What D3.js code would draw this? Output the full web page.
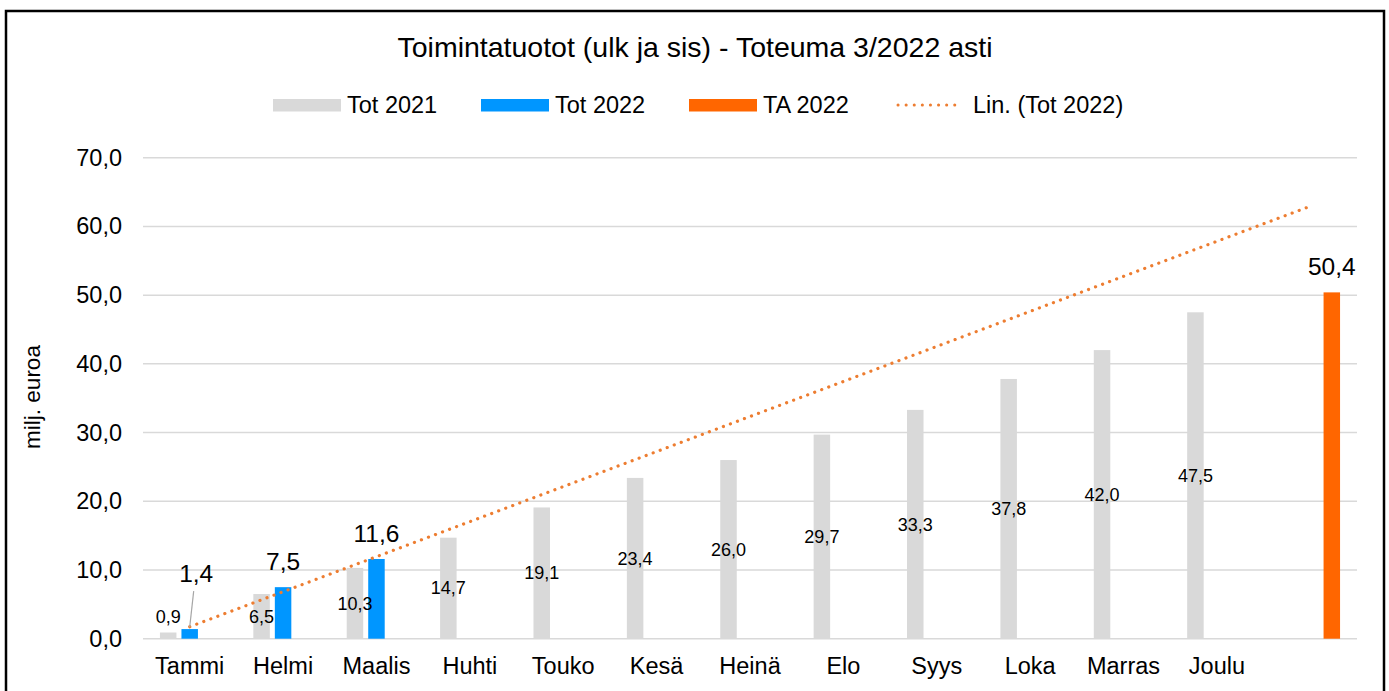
<!DOCTYPE html>
<html>
<head>
<meta charset="utf-8">
<script src="https://cdn.jsdelivr.net/npm/d3@7"></script>
<style>
  body { margin: 0; background: #fff; }
  text { font-family: "Liberation Sans", Arial, sans-serif; }
</style>
</head>
<body>
<div id="chart"></div>
<script>
// chart data
var months = ['Tammi', 'Helmi', 'Maalis', 'Huhti', 'Touko', 'Kesä', 'Heinä', 'Elo', 'Syys', 'Loka', 'Marras', 'Joulu', ''];
var tot2021 = [0.9, 6.5, 10.3, 14.7, 19.1, 23.4, 26.0, 29.7, 33.3, 37.8, 42.0, 47.5, null];
var tot2022 = [1.4, 7.5, 11.6, null, null, null, null, null, null, null, null, null, null];
var ta2022 = [null, null, null, null, null, null, null, null, null, null, null, null, 50.4];
var seriesNames = ['Tot 2021', 'Tot 2022', 'TA 2022'];
var yTicks = [0, 10, 20, 30, 40, 50, 60, 70];

var width = 1389,
    height = 691,
    margin = {top: 157.7, right: 32, bottom: 52.3, left: 143};

var colors = {'Tot 2021': '#d9d9d9', 'Tot 2022': '#0096ff', 'TA 2022': '#ff6600'};
var fmt = function(v) { return v.toFixed(1).replace('.', ','); };

var svg = d3.select('#chart')
  .append('svg')
  .attr('width', width)
  .attr('height', height);

// outer frame
svg.append('rect')
  .attr('x', 6).attr('y', 11)
  .attr('width', 1378).attr('height', 700)
  .attr('fill', 'none')
  .attr('stroke', '#000')
  .attr('stroke-width', 2.5);

var x0 = d3.scaleBand()
  .domain(months.map(function(d, i) { return i; }))
  .range([margin.left, width - margin.right])
  .paddingInner(0.363)
  .paddingOuter(0.1815);

var x1 = d3.scaleBand()
  .domain(seriesNames)
  .range([0, x0.bandwidth()])
  .paddingInner(0.233);

var y = d3.scaleLinear()
  .domain([0, 70])
  .range([height - margin.bottom, margin.top]);

// gridlines
svg.append('g')
  .selectAll('line')
  .data(yTicks)
  .enter()
  .append('line')
  .attr('x1', margin.left)
  .attr('x2', width - margin.right)
  .attr('y1', function(d) { return y(d); })
  .attr('y2', function(d) { return y(d); })
  .attr('stroke', '#d9d9d9')
  .attr('stroke-width', 1.5);

// y axis
var yAxis = svg.append('g')
  .attr('transform', 'translate(' + (margin.left - 21) + ',0)')
  .call(d3.axisLeft(y).tickValues(yTicks).tickFormat(fmt).tickSize(0).tickPadding(0));
yAxis.select('.domain').remove();
yAxis.selectAll('text')
  .attr('font-size', 23.5)
  .attr('fill', '#000')
  .attr('font-family', '"Liberation Sans", Arial, sans-serif');

// x axis
var xAxis = svg.append('g')
  .attr('transform', 'translate(0,' + (height - margin.bottom) + ')')
  .call(d3.axisBottom(x0).tickFormat(function(i) { return months[i]; }).tickSize(0).tickPadding(0));
xAxis.select('.domain').remove();
xAxis.selectAll('text')
  .attr('dy', null)
  .attr('y', 35)
  .attr('font-size', 23.5)
  .attr('fill', '#000')
  .attr('font-family', '"Liberation Sans", Arial, sans-serif');

svg.append('text')
  .attr('transform', 'translate(40,' + 397 + ') rotate(-90)')
  .attr('text-anchor', 'middle')
  .attr('font-size', 22.5)
  .text('milj. euroa');

// bars
var rows = [];
months.forEach(function(m, i) {
  [tot2021, tot2022, ta2022].forEach(function(arr, k) {
    if (arr[i] != null) rows.push({i: i, s: seriesNames[k], v: arr[i]});
  });
});

svg.append('g')
  .selectAll('rect')
  .data(rows)
  .enter()
  .append('rect')
  .attr('x', function(d) { return x0(d.i) + x1(d.s); })
  .attr('y', function(d) { return y(d.v); })
  .attr('width', x1.bandwidth())
  .attr('height', function(d) { return y(0) - y(d.v); })
  .attr('fill', function(d) { return colors[d.s]; });

// linear trendline for Tot 2022
var pts = [];
tot2022.forEach(function(v, i) { if (v != null) pts.push([i + 1, v]); });
var mx = d3.mean(pts, function(p) { return p[0]; }),
    my = d3.mean(pts, function(p) { return p[1]; });
var slope = d3.sum(pts, function(p) { return (p[0] - mx) * (p[1] - my); }) /
            d3.sum(pts, function(p) { return (p[0] - mx) * (p[0] - mx); });
var icpt = my - slope * mx;
var cx = function(i) { return x0(i) + x0.bandwidth() / 2; };

svg.append('line')
  .attr('x1', cx(0)).attr('y1', y(icpt + slope * 1))
  .attr('x2', cx(months.length - 1)).attr('y2', y(icpt + slope * months.length))
  .attr('stroke', '#ed7d31')
  .attr('stroke-width', 3.2)
  .attr('stroke-linecap', 'round')
  .attr('stroke-dasharray', '0.1 7.4');

// labels for Tot 2021 (centre of bar)
svg.append('g')
  .selectAll('text')
  .data(rows.filter(function(d) { return d.s === 'Tot 2021'; }))
  .enter()
  .append('text')
  .attr('x', function(d) { return x0(d.i) + x1(d.s) + x1.bandwidth() / 2; })
  .attr('y', function(d) { return y(Math.max(d.v, 6.4) / 2) + 6.3; })
  .attr('text-anchor', 'middle')
  .attr('font-size', 18)
  .text(function(d) { return fmt(d.v); });

// labels for Tot 2022 and TA 2022 (above bar)
var bigLabels = rows.filter(function(d) { return d.s !== 'Tot 2021'; });
svg.append('g')
  .selectAll('text')
  .data(bigLabels)
  .enter()
  .append('text')
  .attr('x', function(d) { return x0(d.i) + x1(d.s) + x1.bandwidth() / 2 + (d.v < 2 ? 6.5 : 0); })
  .attr('y', function(d) { return d.v < 2 ? y(d.v) - 47 : y(d.v) - 17; })
  .attr('text-anchor', 'middle')
  .attr('font-size', 24.5)
  .text(function(d) { return fmt(d.v); });

// leader line for the moved 1,4 label
var first = bigLabels[0];
var fx = x0(first.i) + x1(first.s) + x1.bandwidth() / 2;
svg.append('line')
  .attr('x1', fx + 4).attr('y1', y(first.v) - 38)
  .attr('x2', fx).attr('y2', y(first.v) - 2)
  .attr('stroke', '#a6a6a6')
  .attr('stroke-width', 1.2);

// title
svg.append('text')
  .attr('x', 695).attr('y', 57)
  .attr('text-anchor', 'middle')
  .attr('font-size', 28.5)
  .text('Toimintatuotot (ulk ja sis) - Toteuma 3/2022 asti');

// legend
var legendItems = [
  {name: 'Tot 2021', x: 273, type: 'bar'},
  {name: 'Tot 2022', x: 481, type: 'bar'},
  {name: 'TA 2022', x: 689, type: 'bar'},
  {name: 'Lin. (Tot 2022)', x: 897, type: 'line'}
];
var lg = svg.append('g').attr('transform', 'translate(0,105)');
legendItems.forEach(function(d) {
  if (d.type === 'bar') {
    lg.append('rect')
      .attr('x', d.x).attr('y', -6)
      .attr('width', 68).attr('height', 12.5)
      .attr('fill', colors[d.name]);
  } else {
    lg.append('line')
      .attr('x1', d.x + 1).attr('x2', d.x + 65)
      .attr('y1', 0).attr('y2', 0)
      .attr('stroke', '#ed7d31')
      .attr('stroke-width', 3)
      .attr('stroke-linecap', 'round')
      .attr('stroke-dasharray', '0.1 8');
  }
  lg.append('text')
    .attr('x', d.x + (d.type === 'bar' ? 74 : 76))
    .attr('y', 7.5)
    .attr('font-size', 23.5)
    .text(d.name);
});
</script>
</body>
</html>
